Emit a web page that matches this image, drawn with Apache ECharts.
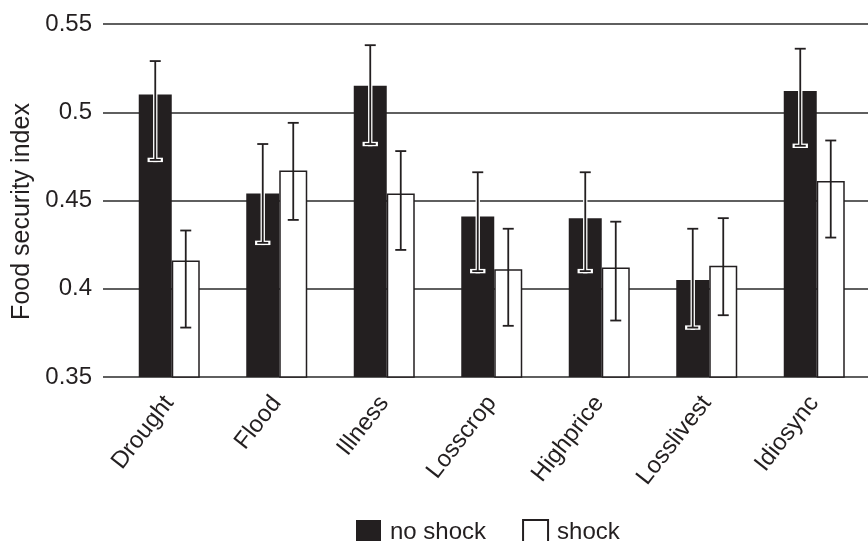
<!DOCTYPE html>
<html>
<head>
<meta charset="utf-8">
<script src="https://cdn.jsdelivr.net/npm/echarts@6/dist/echarts.min.js"></script>
<style>html,body{margin:0;padding:0;background:#fff}#c{width:868px;height:541px}</style>
</head>
<body>
<div id="c"></div>
<script>
var categories = ['Drought', 'Flood', 'Illness', 'Losscrop', 'Highprice', 'Losslivest', 'Idiosync'];
var noShock     = [0.510, 0.454, 0.515, 0.441, 0.440, 0.405, 0.512];
var noShockLow  = [0.473, 0.426, 0.482, 0.410, 0.410, 0.378, 0.481];
var noShockHigh = [0.529, 0.482, 0.538, 0.466, 0.466, 0.434, 0.536];
var shock       = [0.416, 0.467, 0.454, 0.411, 0.412, 0.413, 0.461];
var shockLow    = [0.378, 0.439, 0.422, 0.379, 0.382, 0.385, 0.429];
var shockHigh   = [0.433, 0.494, 0.478, 0.434, 0.438, 0.440, 0.484];
var yTicks = [0.35, 0.40, 0.45, 0.50, 0.55];

var FONT = '"Liberation Sans", Arial, Helvetica, sans-serif';
var INK = '#231f20';
var BLACK_W = 33, WHITE_W = 28;

function errData(lo, hi) {
  return categories.map(function (c, i) { return [i, lo[i], hi[i]]; });
}
function errRender(offset, halo) {
  return function (params, api) {
    var i = api.value(0);
    var pHi = api.coord([i, api.value(2)]);
    var pLo = api.coord([i, api.value(1)]);
    var x = pHi[0] + offset, cw = 5.5;
    var segs = [
      [x, pLo[1], x, pHi[1]],
      [x - cw, pHi[1], x + cw, pHi[1]],
      [x - cw, pLo[1], x + cw, pLo[1]]
    ];
    var children = [];
    if (halo) {
      segs.forEach(function (s) {
        children.push({ type: 'line', shape: { x1: s[0], y1: s[1], x2: s[2], y2: s[3] },
          style: { stroke: '#ffffff', lineWidth: 4.4, lineCap: 'square' } });
      });
    }
    segs.forEach(function (s) {
      children.push({ type: 'line', shape: { x1: s[0], y1: s[1], x2: s[2], y2: s[3] },
        style: { stroke: INK, lineWidth: 1.8 } });
    });
    return { type: 'group', children: children };
  };
}

var chart = echarts.init(document.getElementById('c'), null, { renderer: 'canvas' });
chart.setOption({
  animation: false,
  backgroundColor: '#ffffff',
  textStyle: { fontFamily: FONT, color: INK },
  grid: [
    { left: 103, right: 0, top: 24, bottom: 164 },
    { left: 115.5, width: 756, top: 24, bottom: 164 }
  ],
  legend: {
    data: ['no shock', 'shock'],
    left: 356, top: 519, padding: 0,
    icon: 'rect', itemWidth: 25, itemHeight: 25, itemGap: 36,
    textStyle: { fontFamily: FONT, fontSize: 24, color: INK, padding: [0, 0, 0, 4] }
  },
  xAxis: [
    { type: 'category', gridIndex: 0, data: categories, show: false },
    { type: 'category', gridIndex: 1, data: categories,
      axisLine: { show: false }, axisTick: { show: false },
      axisLabel: { rotate: 52, margin: 22, fontSize: 24, fontFamily: FONT, color: INK, interval: 0 } }
  ],
  yAxis: [
    { type: 'value', gridIndex: 0, min: yTicks[0], max: yTicks[yTicks.length - 1], interval: 0.05,
      axisLine: { show: false }, axisTick: { show: false },
      axisLabel: { margin: 11, fontSize: 24, fontFamily: FONT, color: INK,
        formatter: function (v) { return String(Math.round(v * 100) / 100); } },
      splitLine: { show: true, lineStyle: { color: '#2a2a2a', width: 1.5 } },
      name: 'Food security index', nameLocation: 'middle', nameGap: 68,
      nameTextStyle: { fontSize: 25, fontFamily: FONT, color: INK, padding: [0, 22, 0, 0] } },
    { type: 'value', gridIndex: 1, min: yTicks[0], max: yTicks[yTicks.length - 1], interval: 0.05,
      show: false, splitLine: { show: false } }
  ],
  series: [
    { name: 'no shock', type: 'bar', xAxisIndex: 1, yAxisIndex: 1, data: noShock,
      barWidth: BLACK_W, barGap: '0%',
      itemStyle: { color: INK } },
    { name: 'shock', type: 'bar', xAxisIndex: 1, yAxisIndex: 1, data: shock,
      barWidth: WHITE_W, barGap: '0%',
      itemStyle: { color: '#ffffff', borderColor: INK, borderWidth: 1.5 } },
    { name: 'err-no', type: 'custom', xAxisIndex: 1, yAxisIndex: 1, z: 5,
      data: errData(noShockLow, noShockHigh), encode: { x: 0, y: [1, 2] },
      renderItem: errRender(-(BLACK_W + WHITE_W) / 2 + BLACK_W / 2, true) },
    { name: 'err-sh', type: 'custom', xAxisIndex: 1, yAxisIndex: 1, z: 5,
      data: errData(shockLow, shockHigh), encode: { x: 0, y: [1, 2] },
      renderItem: errRender(-(BLACK_W + WHITE_W) / 2 + BLACK_W + WHITE_W / 2, false) }
  ]
});
</script>
</body>
</html>
